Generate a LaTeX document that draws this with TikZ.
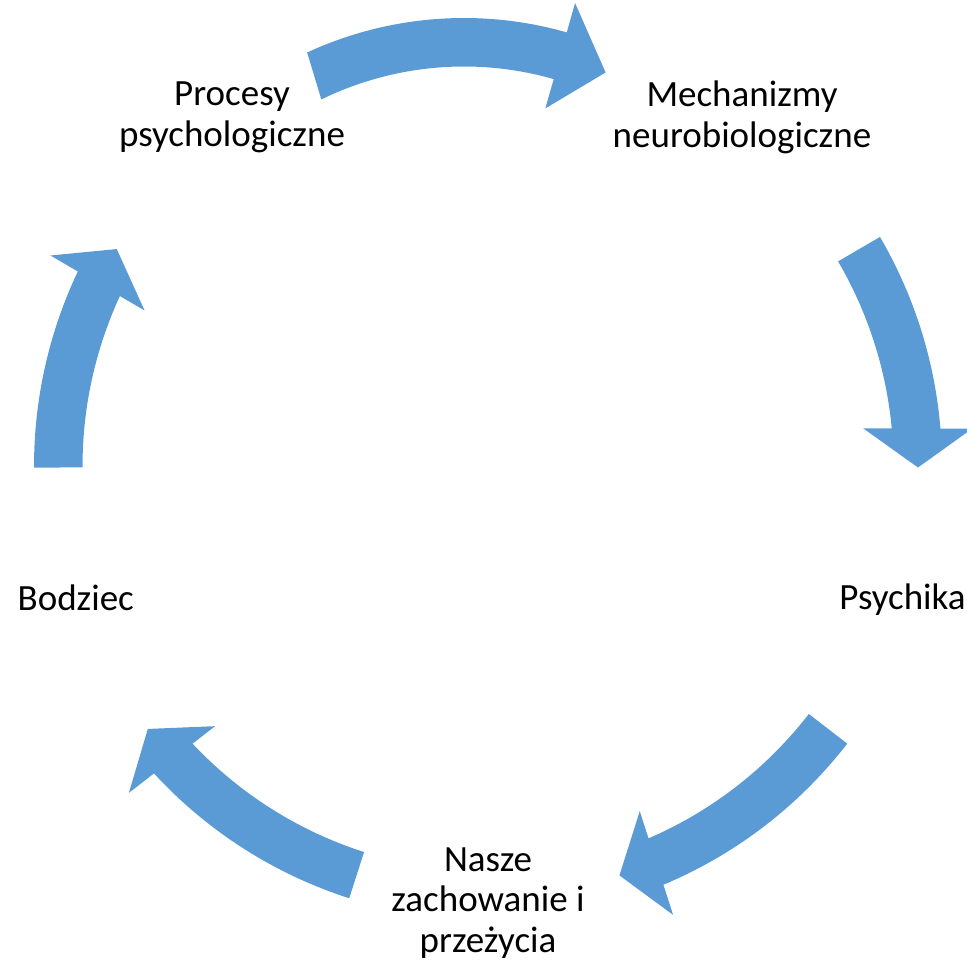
\documentclass[tikz,border=0pt]{standalone}
\usepackage{fontspec}
\setmainfont{Carlito}
\definecolor{arrowblue}{HTML}{5B9BD5}
\begin{document}
\begin{tikzpicture}[x=0.5pt,y=0.5pt,
  arrowfill/.style={fill=arrowblue},
  label/.style={inner sep=0pt,align=center,text=black,
    font=\fontsize{18.5pt}{20.25pt}\selectfont}]
\useasboundingbox (0,0) rectangle (967,-961);
% text nodes
\node[label] (procesy) at (232,-117.4) {Procesy\\psychologiczne};
\node[label] (mech) at (742,-117.5) {Mechanizmy\\neurobiologiczne};
\node[label] (psych) at (902.5,-600) {Psychika};
\node[label] (nasze) at (488,-903) {Nasze\\zachowanie i\\przeżycia};
\node[label] (bodz) at (75.8,-598) {Bodziec};
% top arrow (own centre)
\begin{scope}[shift={(464,-392)}]
\fill[arrowfill] (114.8:374) arc[start angle=114.8, end angle=74.05, radius=374]
  -- (74.06:404.5) -- (66.1:349.5) -- (74:295) -- (74:325.5)
  arc[start angle=74, end angle=116, radius=325.5] -- cycle;
\end{scope}
% other arrows, generic shape rotated to tip angle
\foreach \tp/\ts in {-0.2/30.5, -72.2/34.5, -142.3/34.5, 149.7/30.5}{
\begin{scope}[shift={(488,-466)},rotate=\tp]
\fill[arrowfill] (\ts:454) arc[start angle=\ts, end angle=4.93, radius=454]
  -- (484,39) -- (430,0) -- (375,39) -- (403.6,39)
  arc[start angle=5.52, end angle=\ts, radius=405.5] -- cycle;
\end{scope}}
\end{tikzpicture}
\end{document}
